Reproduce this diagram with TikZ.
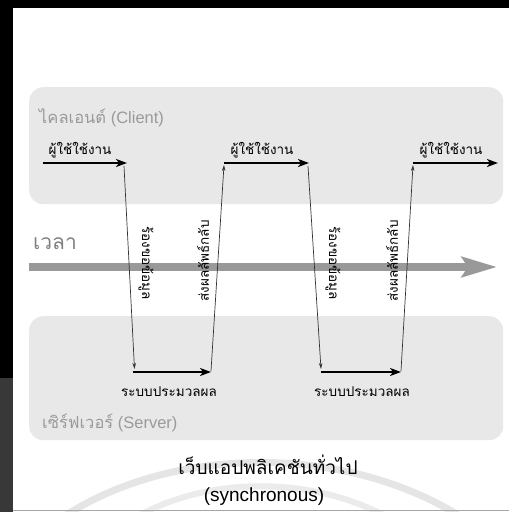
\documentclass[tikz,border=0pt]{standalone}
\usepackage{fontspec}
\setmainfont{Liberation Sans}
\newfontfamily\thai[Script=Thai]{Loma}
\usetikzlibrary{arrows.meta}
\definecolor{panel}{HTML}{E8E8E8}
\definecolor{lblgray}{HTML}{9A9A9A}
\definecolor{timegray}{HTML}{999999}
\definecolor{thin}{HTML}{333333}
\tikzset{
  panelbox/.style={fill=panel, draw=none, rounded corners=14pt},
  userflow/.style={line width=1.8pt, -{Stealth[length=11pt,width=8pt,inset=3pt]}},
  callline/.style={draw=thin, line width=0.7pt, -{Stealth[length=6pt,width=3.5pt]}},
  userlbl/.style={font=\thai\fontsize{13.5}{15}\selectfont, inner sep=0pt},
  vlbl/.style={font=\thai\fontsize{13.5}{15}\selectfont, inner sep=0pt},
  grouplbl/.style={font=\fontsize{16.5}{18}\selectfont, text=lblgray, inner sep=0pt, anchor=west},
}
\begin{document}
\begin{tikzpicture}[x=1pt,y=-1pt]
\useasboundingbox (0,0) rectangle (509,512);
\fill[white] (0,0) rectangle (509,512);
% watermark arcs
\draw[line width=7pt, draw=black!10] (45,530) .. controls (160,440) and (360,440) .. (480,530);
\draw[line width=6pt, draw=black!8] (110,535) .. controls (190,470) and (330,470) .. (415,535);
% frame
\fill[black] (0,0) rectangle (509,8);
\fill[black] (0,0) rectangle (13,378);
\fill[black!78] (0,378) rectangle (13,512);
\draw[black!35, line width=1pt] (13,510.5) -- (509,510.5);
% panels
\node[panelbox, minimum width=474pt, minimum height=117pt, anchor=north west] (client) at (29,87) {};
\node[panelbox, minimum width=474pt, minimum height=124pt, anchor=north west] (server) at (29,316) {};
\node[grouplbl] (clientlbl) at (39,118) {{\thai ไคลเอนต์} (Client)};
\node[grouplbl] (serverlbl) at (42,423) {{\thai เซิร์ฟเวอร์} (Server)};
% time arrow
\coordinate (t0) at (29,267);
\coordinate (t1) at (497,267);
\draw[line width=7.5pt, draw=timegray, -{Triangle[length=35pt,width=20pt,inset=6pt]}] (t0) -- (t1);
\node[font=\thai\fontsize{21}{23}\selectfont, text=black!50, anchor=west, inner sep=0pt] (timelbl) at (33,244) {เวลา};
% coordinates
\coordinate (c1s) at (43,163);  \coordinate (c1e) at (127,163);
\coordinate (d1a) at (124,166); \coordinate (d1b) at (134.5,369);
\coordinate (s1s) at (133,372); \coordinate (s1e) at (211,372);
\coordinate (u1a) at (211,371); \coordinate (u1b) at (224,165);
\coordinate (c2s) at (224,163); \coordinate (c2e) at (309,163);
\coordinate (d2a) at (308,166); \coordinate (d2b) at (321,369);
\coordinate (s2s) at (321,372); \coordinate (s2e) at (401,372);
\coordinate (u2a) at (401,371); \coordinate (u2b) at (413,165);
\coordinate (c3s) at (413,163); \coordinate (c3e) at (498,163);
% thick flows
\draw[userflow] (c1s) -- (c1e);
\draw[userflow] (c2s) -- (c2e);
\draw[userflow] (c3s) -- (c3e);
\draw[userflow] (s1s) -- (s1e);
\draw[userflow] (s2s) -- (s2e);
% thin calls
\draw[callline] (d1a) -- (d1b);
\draw[callline] (u1a) -- (u1b);
\draw[callline] (d2a) -- (d2b);
\draw[callline] (u2a) -- (u2b);
% labels
\node[userlbl] (ul1) at (80,150) {ผู้ใช้ใช้งาน};
\node[userlbl] (ul2) at (262,150) {ผู้ใช้ใช้งาน};
\node[userlbl] (ul3) at (451,150) {ผู้ใช้ใช้งาน};
\node[userlbl] (sl1) at (169,392) {ระบบประมวลผล};
\node[userlbl] (sl2) at (362,392) {ระบบประมวลผล};
\node[vlbl, rotate=-90] (req1) at (146,263) {ร้องขอข้อมูล};
\node[vlbl, rotate=90] (res1) at (203,261) {ส่งผลลัพธ์กลับ};
\node[vlbl, rotate=-90] (req2) at (333,263) {ร้องขอข้อมูล};
\node[vlbl, rotate=90] (res2) at (392,261) {ส่งผลลัพธ์กลับ};
% title
\node[font=\thai\fontsize{19}{21}\selectfont, inner sep=0pt] (title1) at (268,465) {เว็บแอปพลิเคชันทั่วไป};
\node[font=\fontsize{19}{21}\selectfont, inner sep=0pt] (title2) at (264,497) {(synchronous)};
\end{tikzpicture}
\end{document}
